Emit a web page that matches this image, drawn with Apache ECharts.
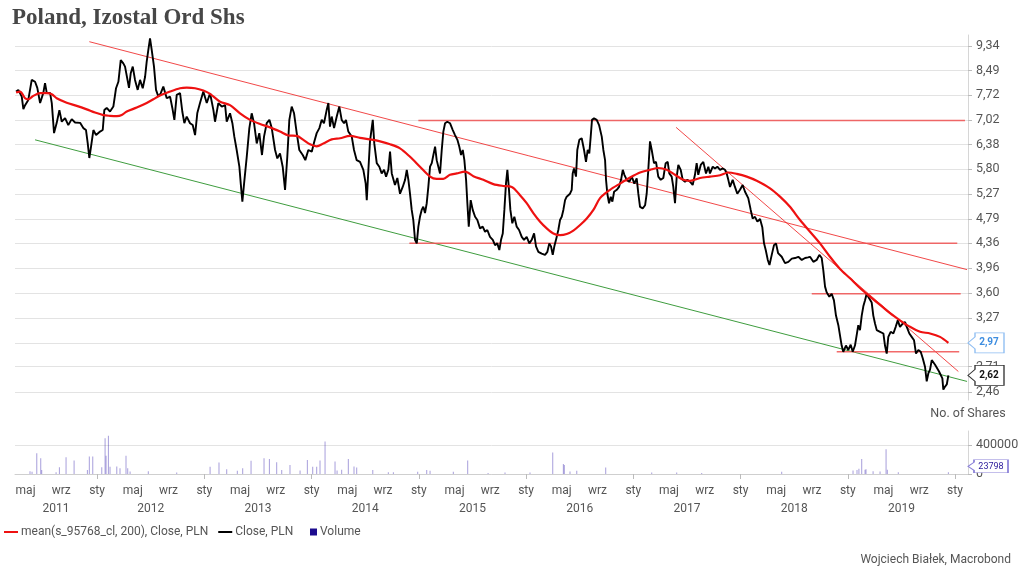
<!DOCTYPE html>
<html><head><meta charset="utf-8">
<script src="https://cdn.jsdelivr.net/npm/echarts@6/dist/echarts.min.js"></script>
<style>html,body{margin:0;padding:0;background:#fff}#c{width:1024px;height:572px}</style>
</head><body><div id="c"></div>
<script>
// time values are decimal years
const closePrices = [[2011.245,7.83],[2011.266,7.88],[2011.298,7.68],[2011.313,7.32],[2011.329,7.43],[2011.359,7.58],[2011.391,8.19],[2011.422,8.13],[2011.443,7.94],[2011.469,7.49],[2011.499,7.79],[2011.515,8.09],[2011.531,7.79],[2011.562,7.79],[2011.578,7.49],[2011.599,6.67],[2011.624,6.94],[2011.649,7.29],[2011.671,6.97],[2011.702,7.07],[2011.732,6.88],[2011.764,7.04],[2011.795,6.95],[2011.842,6.94],[2011.872,6.80],[2011.897,6.75],[2011.913,6.42],[2011.928,6.06],[2011.944,6.33],[2011.966,6.75],[2011.991,6.62],[2012.028,6.71],[2012.053,6.75],[2012.068,7.29],[2012.090,7.35],[2012.121,7.25],[2012.152,7.39],[2012.177,7.93],[2012.199,8.13],[2012.221,8.84],[2012.245,8.73],[2012.261,8.62],[2012.277,8.68],[2012.298,7.94],[2012.314,8.40],[2012.333,8.62],[2012.354,8.19],[2012.379,7.88],[2012.401,8.19],[2012.426,7.93],[2012.448,8.29],[2012.463,8.79],[2012.478,9.19],[2012.494,9.61],[2012.510,9.19],[2012.531,8.62],[2012.550,7.88],[2012.572,7.68],[2012.594,7.78],[2012.618,7.98],[2012.650,7.63],[2012.681,7.68],[2012.702,7.35],[2012.721,7.02],[2012.743,7.73],[2012.774,7.78],[2012.795,7.25],[2012.814,6.93],[2012.836,7.11],[2012.867,6.93],[2012.892,6.88],[2012.914,6.62],[2012.935,7.21],[2012.960,7.49],[2012.991,7.83],[2013.023,7.49],[2013.054,7.78],[2013.085,7.29],[2013.100,6.97],[2013.131,7.49],[2013.163,7.39],[2013.194,7.43],[2013.209,6.97],[2013.240,7.20],[2013.262,6.93],[2013.280,6.58],[2013.302,6.25],[2013.327,5.86],[2013.340,5.49],[2013.355,5.12],[2013.371,5.49],[2013.396,6.09],[2013.420,6.80],[2013.442,7.20],[2013.464,6.93],[2013.489,6.41],[2013.513,6.67],[2013.538,6.13],[2013.557,6.58],[2013.582,6.93],[2013.607,7.02],[2013.629,6.80],[2013.660,6.25],[2013.681,6.05],[2013.706,6.17],[2013.731,5.86],[2013.753,5.36],[2013.774,6.09],[2013.793,7.02],[2013.815,7.39],[2013.837,7.20],[2013.862,6.67],[2013.886,6.25],[2013.918,6.13],[2013.942,6.01],[2013.970,6.25],[2014.002,6.21],[2014.026,6.46],[2014.048,6.67],[2014.073,6.80],[2014.095,7.02],[2014.116,6.93],[2014.141,7.29],[2014.157,7.49],[2014.172,6.84],[2014.188,7.11],[2014.210,6.80],[2014.235,7.11],[2014.259,7.39],[2014.281,7.02],[2014.303,6.93],[2014.321,7.02],[2014.343,6.71],[2014.375,6.58],[2014.396,6.25],[2014.421,6.01],[2014.452,5.97],[2014.483,5.79],[2014.505,5.49],[2014.515,5.15],[2014.530,5.79],[2014.545,6.46],[2014.571,7.02],[2014.585,6.41],[2014.608,5.94],[2014.632,5.86],[2014.654,5.71],[2014.676,5.79],[2014.695,5.64],[2014.716,5.79],[2014.732,6.21],[2014.748,5.71],[2014.778,5.46],[2014.800,5.61],[2014.825,5.28],[2014.850,5.42],[2014.872,5.57],[2014.888,5.79],[2014.903,5.57],[2014.918,5.28],[2014.934,4.96],[2014.949,4.77],[2014.965,4.42],[2014.981,4.36],[2014.996,4.65],[2015.011,4.83],[2015.027,4.96],[2015.042,5.02],[2015.058,4.90],[2015.074,5.09],[2015.089,5.42],[2015.105,5.86],[2015.121,5.94],[2015.136,6.13],[2015.152,6.33],[2015.167,6.01],[2015.183,6.05],[2015.198,5.71],[2015.214,6.25],[2015.229,6.71],[2015.245,6.93],[2015.266,6.97],[2015.291,6.93],[2015.317,6.75],[2015.338,6.62],[2015.360,6.50],[2015.378,6.33],[2015.394,6.13],[2015.410,6.25],[2015.425,6.01],[2015.441,5.57],[2015.453,5.09],[2015.466,4.65],[2015.484,5.15],[2015.503,4.96],[2015.525,4.83],[2015.546,4.77],[2015.571,4.62],[2015.596,4.65],[2015.618,4.56],[2015.639,4.59],[2015.664,4.47],[2015.690,4.42],[2015.711,4.33],[2015.732,4.36],[2015.751,4.25],[2015.767,4.42],[2015.783,4.53],[2015.798,4.96],[2015.813,5.49],[2015.826,5.79],[2015.839,5.42],[2015.854,4.96],[2015.872,4.71],[2015.891,4.83],[2015.913,4.65],[2015.935,4.59],[2015.960,4.47],[2015.981,4.42],[2016.006,4.47],[2016.031,4.36],[2016.053,4.42],[2016.075,4.53],[2016.093,4.31],[2016.115,4.22],[2016.146,4.19],[2016.177,4.17],[2016.199,4.22],[2016.217,4.36],[2016.233,4.31],[2016.249,4.17],[2016.264,4.31],[2016.286,4.47],[2016.301,4.59],[2016.317,4.77],[2016.333,4.83],[2016.348,4.96],[2016.364,5.15],[2016.379,5.22],[2016.394,5.25],[2016.410,5.28],[2016.426,5.36],[2016.435,5.71],[2016.447,5.82],[2016.466,5.64],[2016.478,6.25],[2016.497,6.50],[2016.519,6.54],[2016.541,6.25],[2016.559,5.97],[2016.575,6.25],[2016.590,6.17],[2016.603,6.58],[2016.615,7.02],[2016.634,7.06],[2016.659,7.02],[2016.681,6.88],[2016.706,6.58],[2016.721,6.25],[2016.737,6.01],[2016.746,5.57],[2016.758,5.28],[2016.774,5.09],[2016.790,5.22],[2016.805,5.12],[2016.821,5.32],[2016.846,5.36],[2016.867,5.42],[2016.886,5.57],[2016.902,5.79],[2016.917,5.68],[2016.939,5.57],[2016.963,5.53],[2016.986,5.64],[2017.010,5.49],[2017.032,5.60],[2017.047,5.28],[2017.063,5.02],[2017.088,4.99],[2017.110,5.05],[2017.125,5.28],[2017.140,5.79],[2017.156,6.46],[2017.172,6.25],[2017.193,5.94],[2017.212,5.97],[2017.233,5.64],[2017.256,5.57],[2017.280,5.61],[2017.302,5.94],[2017.321,5.97],[2017.336,5.71],[2017.358,5.64],[2017.373,5.42],[2017.389,5.09],[2017.405,5.64],[2017.420,5.90],[2017.442,5.79],[2017.461,5.57],[2017.482,5.53],[2017.504,5.57],[2017.529,5.53],[2017.554,5.46],[2017.575,5.68],[2017.591,5.94],[2017.606,5.68],[2017.629,5.90],[2017.653,5.97],[2017.678,5.71],[2017.700,5.86],[2017.715,5.71],[2017.741,5.86],[2017.762,5.82],[2017.784,5.86],[2017.809,5.79],[2017.834,5.82],[2017.855,5.79],[2017.871,5.71],[2017.886,5.57],[2017.902,5.42],[2017.927,5.57],[2017.948,5.42],[2017.970,5.28],[2017.995,5.36],[2018.020,5.46],[2018.042,5.32],[2018.072,5.19],[2018.095,4.96],[2018.113,4.80],[2018.135,4.83],[2018.157,4.74],[2018.182,4.79],[2018.203,4.64],[2018.219,4.36],[2018.235,4.25],[2018.254,4.09],[2018.270,4.01],[2018.291,4.17],[2018.312,4.33],[2018.331,4.36],[2018.350,4.20],[2018.384,4.14],[2018.415,4.04],[2018.446,4.06],[2018.478,4.11],[2018.508,4.12],[2018.539,4.14],[2018.571,4.09],[2018.602,4.12],[2018.629,4.13],[2018.648,4.14],[2018.679,4.06],[2018.710,4.09],[2018.735,4.17],[2018.757,4.12],[2018.772,3.93],[2018.788,3.69],[2018.803,3.61],[2018.828,3.55],[2018.850,3.59],[2018.871,3.50],[2018.890,3.30],[2018.912,3.18],[2018.927,3.06],[2018.943,2.94],[2018.958,2.87],[2018.983,2.94],[2019.005,2.89],[2019.027,2.95],[2019.046,2.87],[2019.067,2.94],[2019.083,3.06],[2019.098,3.18],[2019.114,3.12],[2019.130,3.30],[2019.145,3.42],[2019.161,3.50],[2019.176,3.59],[2019.191,3.55],[2019.207,3.57],[2019.223,3.47],[2019.238,3.30],[2019.254,3.20],[2019.270,3.12],[2019.301,3.10],[2019.332,3.08],[2019.347,2.94],[2019.363,2.85],[2019.378,3.04],[2019.400,3.10],[2019.425,3.08],[2019.447,3.16],[2019.466,3.24],[2019.487,3.16],[2019.512,3.20],[2019.534,3.22],[2019.550,3.16],[2019.574,3.08],[2019.596,3.04],[2019.618,3.00],[2019.636,2.85],[2019.658,2.89],[2019.680,2.87],[2019.699,2.80],[2019.720,2.71],[2019.736,2.56],[2019.751,2.64],[2019.767,2.68],[2019.783,2.78],[2019.798,2.80],[2019.814,2.73],[2019.829,2.71],[2019.851,2.66],[2019.867,2.64],[2019.882,2.59],[2019.891,2.48],[2019.907,2.51],[2019.923,2.53],[2019.938,2.62]];

const movingAverage = [[2011.245,7.80],[2011.282,7.83],[2011.329,7.63],[2011.359,7.60],[2011.406,7.70],[2011.469,7.78],[2011.531,7.78],[2011.578,7.75],[2011.624,7.63],[2011.717,7.50],[2011.811,7.41],[2011.904,7.31],[2011.981,7.22],[2012.059,7.15],[2012.121,7.13],[2012.184,7.12],[2012.230,7.15],[2012.277,7.25],[2012.370,7.36],[2012.463,7.49],[2012.525,7.60],[2012.587,7.71],[2012.681,7.83],[2012.774,7.93],[2012.836,7.95],[2012.914,7.93],[2012.991,7.86],[2013.054,7.76],[2013.147,7.53],[2013.240,7.43],[2013.333,7.20],[2013.427,7.02],[2013.520,6.91],[2013.613,6.82],[2013.706,6.71],[2013.784,6.61],[2013.862,6.60],[2013.924,6.50],[2013.986,6.39],[2014.048,6.34],[2014.110,6.41],[2014.188,6.51],[2014.266,6.54],[2014.359,6.60],[2014.452,6.55],[2014.545,6.51],[2014.639,6.46],[2014.732,6.39],[2014.825,6.29],[2014.918,6.09],[2015.011,5.86],[2015.105,5.64],[2015.167,5.59],[2015.229,5.59],[2015.291,5.68],[2015.354,5.71],[2015.431,5.75],[2015.509,5.65],[2015.602,5.57],[2015.695,5.48],[2015.788,5.44],[2015.867,5.42],[2015.944,5.25],[2016.006,5.09],[2016.068,4.90],[2016.131,4.74],[2016.193,4.62],[2016.255,4.53],[2016.317,4.50],[2016.379,4.52],[2016.441,4.58],[2016.504,4.68],[2016.566,4.80],[2016.628,4.96],[2016.690,5.19],[2016.783,5.36],[2016.877,5.49],[2016.970,5.62],[2017.063,5.73],[2017.156,5.79],[2017.234,5.83],[2017.312,5.79],[2017.389,5.68],[2017.467,5.57],[2017.529,5.55],[2017.623,5.61],[2017.715,5.64],[2017.809,5.67],[2017.886,5.73],[2017.965,5.70],[2018.058,5.64],[2018.151,5.55],[2018.275,5.39],[2018.368,5.22],[2018.461,5.02],[2018.555,4.77],[2018.648,4.56],[2018.741,4.36],[2018.834,4.14],[2018.928,3.95],[2019.021,3.81],[2019.114,3.67],[2019.207,3.55],[2019.301,3.44],[2019.394,3.33],[2019.487,3.24],[2019.580,3.16],[2019.674,3.10],[2019.767,3.08],[2019.860,3.04],[2019.938,2.97]];

const volumes = [[2011.375,40000],[2011.394,30000],[2011.438,290000],[2011.475,220000],[2011.484,55000],[2011.618,25000],[2011.649,95000],[2011.711,235000],[2011.786,190000],[2011.910,55000],[2011.928,245000],[2011.960,245000],[2012.044,95000],[2012.075,500000],[2012.084,255000],[2012.106,535000],[2012.121,100000],[2012.184,105000],[2012.214,80000],[2012.270,255000],[2012.286,80000],[2012.308,35000],[2012.478,40000],[2012.743,20000],[2013.054,100000],[2013.137,160000],[2013.209,65000],[2013.308,45000],[2013.358,80000],[2013.436,185000],[2013.557,220000],[2013.607,210000],[2013.675,165000],[2013.722,55000],[2013.799,125000],[2013.893,50000],[2013.961,195000],[2014.011,100000],[2014.048,100000],[2014.079,190000],[2014.126,455000],[2014.219,175000],[2014.238,50000],[2014.281,60000],[2014.343,210000],[2014.396,105000],[2014.421,90000],[2014.571,55000],[2014.716,25000],[2014.763,25000],[2014.990,30000],[2015.074,55000],[2015.105,45000],[2015.322,30000],[2015.456,190000],[2015.646,15000],[2015.804,20000],[2016.037,20000],[2016.249,300000],[2016.348,140000],[2016.357,125000],[2016.410,35000],[2016.473,45000],[2016.743,90000],[2017.172,20000],[2017.405,20000],[2017.638,15000],[2018.384,30000],[2019.049,50000],[2019.086,55000],[2019.104,75000],[2019.130,210000],[2019.161,60000],[2019.170,65000],[2019.236,40000],[2019.301,35000],[2019.357,345000],[2019.369,60000],[2019.471,25000],[2019.938,23798]];

// hand-drawn trend lines and levels (time, price)
const channelTop = [[2011.928,9.49],[2020.112,3.94]];
const channelBottom = [[2011.422,6.50],[2020.112,2.56]];
const steepTrend = [[2017.399,6.82],[2020.031,2.66]];
const level702 = [[2014.996,7.00],[2020.093,7.00]];
const level436 = [[2014.912,4.36],[2020.021,4.36]];
const level360 = [[2018.664,3.59],[2020.053,3.59]];
const level287 = [[2018.897,2.87],[2020.039,2.87]];

const priceTicks = [2.46,2.71,2.97,3.27,3.60,3.96,4.36,4.79,5.27,5.80,6.38,7.02,7.72,8.49,9.34];
const volumeLabels = [0,400000];
const years = [2011,2012,2013,2014,2015,2016,2017,2018,2019];
const monthAbbr = {0:'sty',4:'maj',8:'wrz'};
const xMin = 2011.235, xMax = 2020.121;
const priceMin = 2.383, priceMax = 9.738;

const monthTicks = [];
years.forEach(y => { monthTicks.push(y + 4/12, y + 8/12, y + 1); });
const janTicks = years.map(y => y + 1);
const yearCenters = years.map(y => y === years[0] ? (Math.max(y, xMin) + y + 1) / 2 : y + 0.5);

const FONT = 'Roboto';
const fmt = v => v.toFixed(2).replace('.', ',');
const lastClose = closePrices[closePrices.length - 1][1];
const lastMA = movingAverage[movingAverage.length - 1][1];
const lastVol = volumes[volumes.length - 1][1];
const callout = 'path://M0,10 L7,4 L7,0 L36,0 L36,20 L7,20 L7,16 Z';
const calloutSmall = 'path://M0,6.5 L6,2.5 L6,0 L40,0 L40,13 L6,13 L6,10.5 Z';

const thin = (name, data, color, w) => ({
  type: 'line', name, data, xAxisIndex: 0, yAxisIndex: 0, showSymbol: false, symbol: 'none',
  lineStyle: { color, width: w }, itemStyle: { color }, silent: true, z: 2, clip: false
});

const chart = echarts.init(document.getElementById('c'), null, { renderer: 'canvas' });
chart.setOption({
  animation: false,
  backgroundColor: '#fff',
  title: [
    { text: 'Poland, Izostal Ord Shs', left: 7, top: 2,
      textStyle: { fontFamily: 'Liberation Serif', fontWeight: 'bold', fontSize: 23, color: '#474747' } },
    { text: 'Wojciech Białek, Macrobond', right: 8, top: 549,
      textStyle: { fontFamily: FONT, fontWeight: 'normal', fontSize: 12, color: '#555' } }
  ],
  legend: [
    { data: ['mean(s_95768_cl, 200), Close, PLN', 'Close, PLN'], left: 4, top: 526, padding: 0,
      icon: 'rect', itemWidth: 14, itemHeight: 2, itemGap: 10,
      textStyle: { fontFamily: FONT, fontSize: 12, color: '#555', padding: [0, 0, 0, -2] } },
    { data: [{ name: 'Volume', itemStyle: { color: '#1c0c8e' } }], left: 310, top: 526, padding: 0, icon: 'rect', itemWidth: 7, itemHeight: 7,
      textStyle: { fontFamily: FONT, fontSize: 12, color: '#555', padding: [0, 0, 0, -2] } }
  ],
  grid: [
    { left: 15, right: 56, top: 35, height: 365 },
    { left: 15, right: 56, top: 431, height: 43 }
  ],
  xAxis: [
    { type: 'value', gridIndex: 0, min: xMin, max: xMax, show: false },
    { type: 'value', gridIndex: 1, min: xMin, max: xMax, position: 'bottom',
      axisLine: { lineStyle: { color: '#cfcfcf' } },
      axisTick: { customValues: janTicks, length: 5, lineStyle: { color: '#bbb' } },
      splitLine: { show: false },
      axisLabel: { customValues: monthTicks, margin: 11, fontFamily: FONT, fontSize: 12, color: '#555',
        formatter: v => monthAbbr[Math.round((v - Math.floor(v + 1e-6)) * 12) % 12] || '' } },
    { type: 'value', gridIndex: 1, min: xMin, max: xMax, position: 'bottom',
      axisLine: { show: false }, axisTick: { show: false }, splitLine: { show: false },
      axisLabel: { customValues: yearCenters, margin: 29, fontFamily: FONT, fontSize: 12, color: '#555',
        formatter: v => String(Math.floor(v)) } }
  ],
  yAxis: [
    { type: 'log', gridIndex: 0, position: 'right', min: priceMin, max: priceMax,
      axisLine: { show: true, lineStyle: { color: '#d6d6d6' } },
      axisTick: { show: true, customValues: priceTicks, length: 4, lineStyle: { color: '#bbb' } },
      splitLine: { show: true, lineStyle: { color: '#e3e3e3' } },
      axisLabel: { customValues: priceTicks, margin: 8, fontFamily: FONT, fontSize: 12.5, color: '#555', formatter: fmt } },
    { type: 'value', gridIndex: 1, position: 'right', min: 0, max: 600000, interval: 100000,
      name: 'No. of Shares', nameLocation: 'end', nameGap: 11,
      nameTextStyle: { fontFamily: FONT, fontSize: 12.5, color: '#555' },
      axisLine: { show: true, lineStyle: { color: '#d6d6d6' } },
      axisTick: { show: true, customValues: volumeLabels, length: 4, lineStyle: { color: '#bbb' } },
      splitLine: { show: true, lineStyle: { color: '#e3e3e3' } },
      axisLabel: { customValues: volumeLabels, margin: 8, fontFamily: FONT, fontSize: 12.5, color: '#555', formatter: v => String(v) } }
  ],
  series: [
    thin('channelTop', channelTop, 'rgba(238,40,40,0.85)', 1),
    thin('channelBottom', channelBottom, '#3f9d3f', 1),
    thin('steepTrend', steepTrend, 'rgba(238,40,40,0.85)', 1),
    thin('level702', level702, 'rgba(240,80,80,0.85)', 1.5),
    thin('level436', level436, 'rgba(240,80,80,0.85)', 1.5),
    thin('level360', level360, 'rgba(240,80,80,0.85)', 1.5),
    thin('level287', level287, 'rgba(240,80,80,0.85)', 1.5),
    { type: 'line', name: 'Close, PLN', data: closePrices, xAxisIndex: 0, yAxisIndex: 0,
      showSymbol: false, symbol: 'none', lineStyle: { color: '#000', width: 1.9 }, itemStyle: { color: '#000' }, z: 3,
      markPoint: { symbol: callout, symbolSize: [36, 20], symbolOffset: [18, 0], silent: true,
        itemStyle: { color: '#fff', borderColor: '#333', borderWidth: 1 },
        label: { show: true, offset: [3, 0], fontFamily: FONT, fontSize: 10, fontWeight: 'bold', color: '#111', formatter: () => fmt(lastClose) },
        data: [{ coord: [xMax, lastClose] }] } },
    { type: 'line', name: 'mean(s_95768_cl, 200), Close, PLN', data: movingAverage, xAxisIndex: 0, yAxisIndex: 0,
      showSymbol: false, symbol: 'none', smooth: 0.3, lineStyle: { color: '#ee1111', width: 2.2 }, itemStyle: { color: '#ee1111' }, z: 4,
      markPoint: { symbol: callout, symbolSize: [36, 20], symbolOffset: [18, 0], silent: true,
        itemStyle: { color: '#fff', borderColor: '#8cbcf2', borderWidth: 1 },
        label: { show: true, offset: [3, 0], fontFamily: FONT, fontSize: 10, fontWeight: 'bold', color: '#3d8de0', formatter: () => fmt(lastMA) },
        data: [{ coord: [xMax, lastMA] }] } },
    { type: 'bar', name: 'Volume', data: volumes, xAxisIndex: 1, yAxisIndex: 1, barWidth: 1,
      itemStyle: { color: 'rgba(45,25,170,0.42)' }, z: 2,
      markPoint: { symbol: calloutSmall, symbolSize: [40, 13], symbolOffset: [20, -6], silent: true,
        itemStyle: { color: '#fff', borderColor: '#8a80d8', borderWidth: 1 },
        label: { show: true, offset: [3, 0], fontFamily: FONT, fontSize: 9, color: '#2a1a9a', formatter: () => String(lastVol) },
        data: [{ coord: [xMax, lastVol] }] } }
  ]
});
</script></body></html>
